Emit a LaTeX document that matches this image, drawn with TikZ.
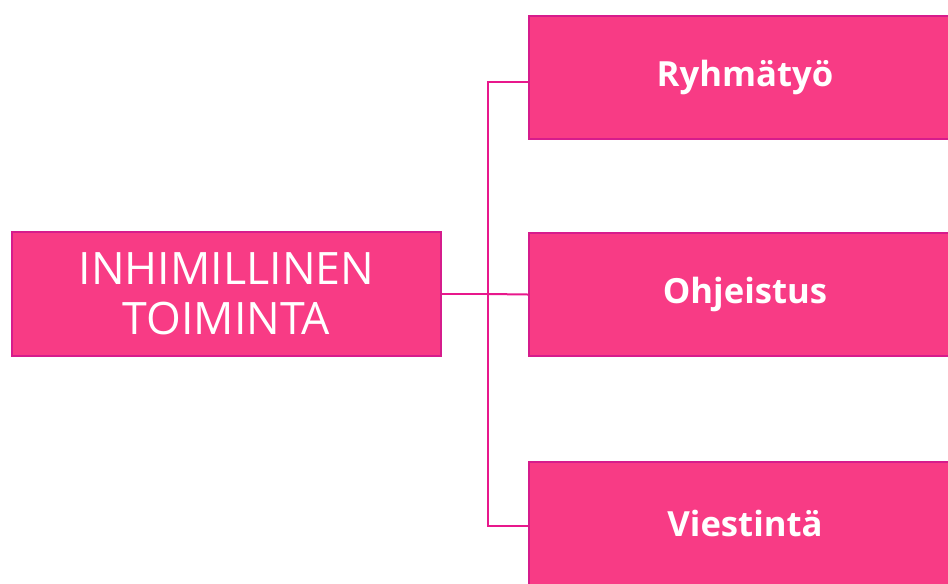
\documentclass[tikz,border=0pt]{standalone}
\usepackage{fontspec}
\setmainfont{Open Sans}
\usepackage{xcolor}
\usetikzlibrary{positioning}
\definecolor{pinkfill}{RGB}{248,59,133}
\definecolor{pinkedge}{RGB}{214,28,140}
\definecolor{pinkline}{RGB}{232,24,140}
\tikzset{
  mainbox/.style={draw=pinkedge, line width=1.5pt, fill=pinkfill, text=white, align=center,
    minimum width=429*0.75pt, minimum height=124*0.75pt, inner sep=0pt,
    font=\fontsize{33.5}{37.5}\selectfont},
  subbox/.style={draw=pinkedge, line width=1.5pt, fill=pinkfill, text=white, align=center,
    minimum width=432*0.75pt, minimum height=123*0.75pt, inner sep=0pt,
    font=\bfseries\fontsize{26}{28}\selectfont},
  link/.style={draw=pinkline, line width=1.5pt}
}
\begin{document}
\begin{tikzpicture}[x=0.75pt, y=-0.75pt]
    \useasboundingbox (0,0) rectangle (948,583);
    \clip (0,0) rectangle (948,583);
    \node[mainbox] (inhim) at (226.5,294) {INHIMILLINEN\\TOIMINTA};
    \node[subbox] (ryhma) at (745,77.5) {Ryhmätyö};
    \node[subbox] (ohje) at (745,294.5) {Ohjeistus};
    \node[subbox] (viesti) at (745,523.5) {Viestintä};
    \coordinate (fork) at (488,294);
    \draw[link] (inhim.east) -- (fork);
    \draw[link] (fork) |- ([yshift=-3.4pt]ryhma.west);
    \draw[link] (fork) -- (ohje.west);
    \draw[link] (fork) |- ([yshift=-2pt]viesti.west);
\end{tikzpicture}
\end{document}
